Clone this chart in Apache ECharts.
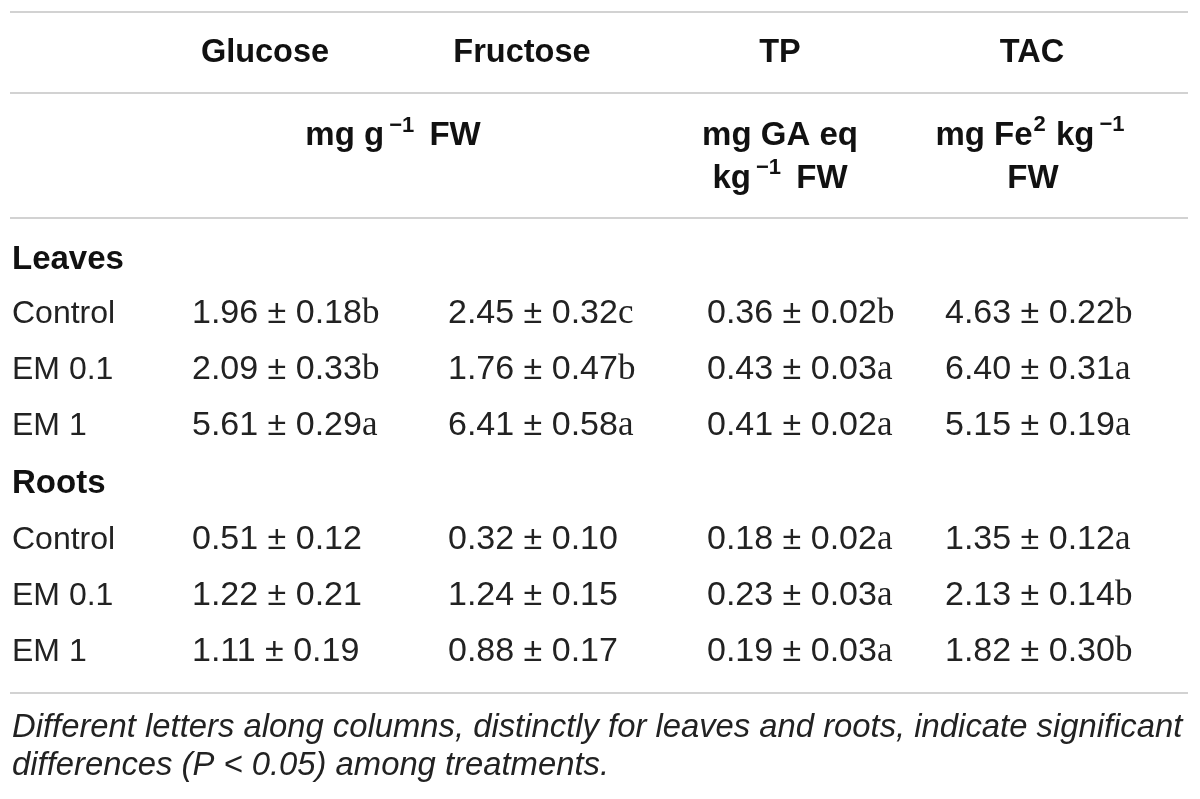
<!DOCTYPE html>
<html>
<head>
<meta charset="utf-8">
<script src="https://cdn.jsdelivr.net/npm/echarts@6/dist/echarts.min.js"></script>
<style>html,body{margin:0;padding:0;background:#fff}#c{width:1200px;height:799px}</style>
</head>
<body>
<div id="c"></div>
<script>
// ---- data ----
const columns = ['Glucose', 'Fructose', 'TP', 'TAC'];
const unitLabels = ['mg g{sup|−1} FW', 'mg GA eq\nkg{sup|−1} FW', 'mg Fe{sup2|2} kg{sup|−1}\nFW'];
const groups = ['Leaves', 'Roots'];
const treatments = ['Control', 'EM 0.1', 'EM 1'];
// order: Leaves Control, EM 0.1, EM 1, Roots Control, EM 0.1, EM 1
const glucoseMean = [1.96, 2.09, 5.61, 0.51, 1.22, 1.11];
const glucoseSD = [0.18, 0.33, 0.29, 0.12, 0.21, 0.19];
const glucoseLetter = ['b', 'b', 'a', '', '', ''];
const fructoseMean = [2.45, 1.76, 6.41, 0.32, 1.24, 0.88];
const fructoseSD = [0.32, 0.47, 0.58, 0.10, 0.15, 0.17];
const fructoseLetter = ['c', 'b', 'a', '', '', ''];
const tpMean = [0.36, 0.43, 0.41, 0.18, 0.23, 0.19];
const tpSD = [0.02, 0.03, 0.02, 0.02, 0.03, 0.03];
const tpLetter = ['b', 'a', 'a', 'a', 'a', 'a'];
const tacMean = [4.63, 6.40, 5.15, 1.35, 2.13, 1.82];
const tacSD = [0.22, 0.31, 0.19, 0.12, 0.14, 0.30];
const tacLetter = ['b', 'a', 'a', 'a', 'b', 'b'];
const footnote = 'Different letters along columns, distinctly for leaves and roots, indicate significant\ndifferences (P < 0.05) among treatments.';

// ---- layout ----
const headerY = 53;
const unitsY = 157;
const units1Y = 136;
const groupY = [260, 484];
const rowY = [314, 370, 426, 540, 596, 652];
const labelX = 12;
const valueX = [192, 448, 707, 945];
const headerX = [265, 522, 780, 1032];
const unitX = [393, 780, 1033];
const ruleY = [12, 93, 218, 693];
const footY = 747;

const means = [glucoseMean, fructoseMean, tpMean, tacMean];
const sds = [glucoseSD, fructoseSD, tpSD, tacSD];
const letters = [glucoseLetter, fructoseLetter, tpLetter, tacLetter];

const SANS = 'Liberation Sans';
const TEXT = '#222';
const HEAD = '#111';

function textSeries(name, data, label) {
  return {
    type: 'scatter', name, symbolSize: 0.1, silent: true,
    itemStyle: { color: 'transparent', opacity: 1 },
    data,
    label: Object.assign({ show: true, position: 'inside', verticalAlign: 'middle', opacity: 1,
      formatter: p => p.data.text }, label)
  };
}

const headerData = columns.map((c, i) => ({ value: [headerX[i], headerY], text: c }));
const unitData = unitLabels.map((u, i) => ({ value: [unitX[i], i === 0 ? units1Y : unitsY], text: u }));
const groupData = groups.map((g, i) => ({ value: [labelX, groupY[i]], text: g }));
const rowData = rowY.map((y, r) => ({ value: [labelX, y], text: treatments[r % 3] }));
const valueData = [];
columns.forEach((c, ci) => {
  rowY.forEach((y, r) => {
    const lt = letters[ci][r];
    valueData.push({
      value: [valueX[ci], y],
      text: '{n|' + means[ci][r].toFixed(2) + ' ± ' + sds[ci][r].toFixed(2) + '}' + (lt ? '{l|' + lt + '}' : '')
    });
  });
});
const footData = [{ value: [12, footY], text: footnote }];

const chart = echarts.init(document.getElementById('c'));
chart.setOption({
  animation: false,
  backgroundColor: '#fff',
  grid: { left: 10, right: 12, top: 0, bottom: 0 },
  xAxis: { type: 'value', min: 10, max: 1188, show: false },
  yAxis: { type: 'value', min: 0, max: 799, inverse: true, show: false },
  series: [
    Object.assign(textSeries('rules', [], {}), {
      markLine: {
        silent: true, symbol: 'none', label: { show: false },
        lineStyle: { color: '#d2d2d2', width: 2, type: 'solid', opacity: 1 },
        data: ruleY.map(y => ({ yAxis: y }))
      }
    }),
    textSeries('headers', headerData, {
      align: 'center', fontFamily: SANS, fontWeight: 'bold', fontSize: 32.5, color: HEAD
    }),
    textSeries('units', unitData, {
      align: 'center', fontFamily: SANS, fontWeight: 'bold', fontSize: 33, color: HEAD, lineHeight: 43,
      rich: {
        sup: { fontFamily: SANS, fontWeight: 'bold', fontSize: 22, color: HEAD, verticalAlign: 'top', lineHeight: 30, padding: [0, 6, 0, 5] },
        sup2: { fontFamily: SANS, fontWeight: 'bold', fontSize: 22, color: HEAD, verticalAlign: 'top', lineHeight: 30, padding: [0, 1, 0, 1] }
      }
    }),
    textSeries('groups', groupData, {
      align: 'left', fontFamily: SANS, fontWeight: 'bold', fontSize: 33, color: HEAD
    }),
    textSeries('rows', rowData, {
      align: 'left', fontFamily: SANS, fontSize: 32, color: TEXT
    }),
    textSeries('values', valueData, {
      align: 'left', fontFamily: SANS, fontSize: 34, color: TEXT,
      rich: {
        n: { fontFamily: SANS, fontSize: 34, color: TEXT },
        l: { fontFamily: 'Liberation Serif', fontSize: 35, color: TEXT }
      }
    }),
    textSeries('footnote', footData, {
      align: 'left', fontFamily: SANS, fontStyle: 'italic', fontSize: 32.8, color: TEXT, lineHeight: 38
    })
  ]
});
</script>
</body>
</html>
